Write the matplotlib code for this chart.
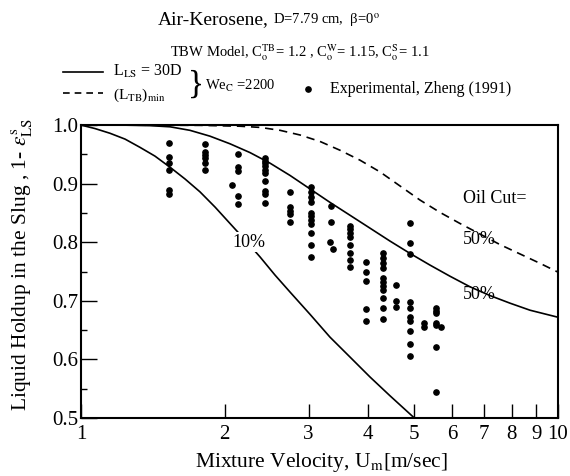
import numpy as np
import matplotlib
matplotlib.use('Agg')
import matplotlib.pyplot as plt
from matplotlib.lines import Line2D

plt.rcParams['font.family'] = ['Liberation Serif', 'DejaVu Serif']
plt.rcParams['mathtext.fontset'] = 'stix'

# model curves
# oil cut 10%, L_LS = 30D
x_10 = [1.0, 1.070, 1.150, 1.237, 1.329, 1.429, 1.537, 1.652, 1.776, 1.910, 2.053, 2.207,
        2.373, 2.551, 2.743, 3.021, 3.327, 3.665, 4.036, 4.444, 5.0]
y_10 = [1.0, 0.994, 0.986, 0.976, 0.962, 0.947, 0.928, 0.908, 0.886, 0.860, 0.832, 0.804,
        0.775, 0.744, 0.715, 0.677, 0.638, 0.604, 0.570, 0.538, 0.5]

# oil cut 50%, L_LS = 30D
x_50 = [1.0, 1.207, 1.395, 1.537, 1.692, 1.864, 2.053, 2.261, 2.490, 2.743, 3.021, 3.327,
        3.665, 4.036, 4.444, 4.894, 5.391, 5.937, 6.539, 7.202, 7.933, 8.737, 10.0]
y_50 = [1.0, 1.0, 0.999, 0.997, 0.991, 0.981, 0.968, 0.953, 0.935, 0.914, 0.891, 0.868,
        0.846, 0.824, 0.802, 0.781, 0.761, 0.742, 0.724, 0.709, 0.696, 0.684, 0.672]

# oil cut 50%, (L_TB)min
x_50min = [1.0, 1.776, 2.154, 2.373, 2.614, 2.879, 3.170, 3.491, 3.846, 4.236, 4.665,
           5.137, 5.656, 6.231, 6.862, 7.558, 8.325, 9.169, 10.0]
y_50min = [1.0, 0.9995, 0.998, 0.996, 0.991, 0.983, 0.972, 0.957, 0.940, 0.920, 0.896,
           0.872, 0.851, 0.832, 0.814, 0.796, 0.780, 0.764, 0.749]

# experimental data, Zheng (1991): velocity -> holdups
exp_cols = [
    (1.53, [0.969, 0.945, 0.935, 0.923, 0.890, 0.883]),
    (1.82, [0.968, 0.954, 0.949, 0.943, 0.936, 0.924]),
    (2.07, [0.898]),
    (2.13, [0.951, 0.929, 0.922, 0.879, 0.866]),
    (2.43, [0.943, 0.939, 0.935, 0.930, 0.924, 0.919, 0.904, 0.887, 0.882, 0.867]),
    (2.74, [0.886, 0.860, 0.854, 0.848, 0.834]),
    (3.04, [0.894, 0.886, 0.878, 0.869, 0.850, 0.845, 0.838, 0.831, 0.816, 0.795, 0.774]),
    (3.35, [0.862, 0.835]),
    (3.32, [0.801]),
    (3.37, [0.788]),
    (3.66, [0.828, 0.822, 0.815, 0.809, 0.795, 0.782, 0.770, 0.758]),
    (3.96, [0.766, 0.749, 0.733, 0.686, 0.666]),
    (4.29, [0.782, 0.773, 0.765, 0.756, 0.739, 0.732, 0.725, 0.718, 0.705, 0.688, 0.669]),
    (4.57, [0.727, 0.700, 0.690]),
    (4.90, [0.833, 0.798, 0.780, 0.698, 0.687, 0.673, 0.666, 0.649, 0.627, 0.606]),
    (5.25, [0.662, 0.655]),
    (5.54, [0.687, 0.683, 0.679, 0.663, 0.659, 0.622, 0.545]),
    (5.69, [0.655]),
]
x_exp = np.concatenate([[v] * len(h) for v, h in exp_cols])
y_exp = np.concatenate([h for v, h in exp_cols])

xticks = [1, 2, 3, 4, 5, 6, 7, 8, 9, 10]
yticks = [0.5, 0.6, 0.7, 0.8, 0.9, 1.0]

fig = plt.figure(figsize=(5.7, 4.76), dpi=100)
ax = fig.add_axes([0.1421, 0.1218, 0.8368, 0.6155])

ax.plot(x_10, y_10, 'k-', lw=1.2)
ax.plot(x_50, y_50, 'k-', lw=1.2)
ax.plot(x_50min, y_50min, 'k--', lw=1.2, dashes=(5, 3.5))
ax.plot(x_exp, y_exp, 'ko', ms=3.8, ls='none')

ax.set_xscale('log')
ax.set_xlim(1, 10)
ax.set_ylim(0.5, 1.0)
ax.set_xticks(xticks)
ax.set_xticklabels([str(t) for t in xticks])
ax.xaxis.set_minor_locator(matplotlib.ticker.NullLocator())
ax.set_yticks(yticks)
ax.set_yticklabels(['%.1f' % t for t in yticks])
ax.set_yticks(np.arange(0.55, 1.0, 0.1), minor=True)
ax.tick_params(axis='x', direction='in', length=10, width=1, labelsize=15, pad=5)
ax.tick_params(axis='y', which='major', direction='in', length=11.5, width=1, labelsize=15, pad=2)
ax.tick_params(axis='y', which='minor', direction='in', length=4.5, width=1)
for s in ax.spines.values():
    s.set_linewidth(1.5)

# curve labels
ax.text(2.08, 0.800, '10%', fontsize=13, va='center', ha='left',
        bbox=dict(fc='white', ec='none', pad=1))
ax.text(6.32, 0.875, 'Oil Cut=', fontsize=13, va='center', ha='left')
ax.text(6.32, 0.804, '50%', fontsize=13, va='center', ha='left')
ax.text(6.32, 0.711, '50%', fontsize=13, va='center', ha='left')

# titles
fig.text(269 / 570, 0.950, 'Air-Kerosene,', fontsize=14, ha='right', va='baseline')
fig.text(273 / 570, 0.950, 'D=7.79 cm,  β=0$^\\mathrm{o}$', fontsize=10.5, ha='left', va='baseline')
fig.text(300 / 570, 0.880,
         r'TBW Model, C$_\mathrm{o}^\mathrm{TB}$= 1.2 , C$_\mathrm{o}^\mathrm{W}$= 1.15, C$_\mathrm{o}^\mathrm{S}$= 1.1',
         fontsize=10.5, ha='center', va='baseline')

# hand made legend
fig.add_artist(Line2D([0.110, 0.181], [0.849, 0.849], color='k', lw=1.2))
fig.add_artist(Line2D([0.110, 0.181], [0.805, 0.805], color='k', lw=1.2, ls='--', dashes=(4, 3)))
fig.text(0.198, 0.849, r'L$_\mathrm{LS}$ = 30D', fontsize=11.5, va='center')
fig.text(0.198, 0.800, r'(L$_\mathrm{TB}$)$_\mathrm{min}$', fontsize=11, va='center')
fig.text(0.330, 0.822, '}', fontsize=24, va='center')
fig.text(0.360, 0.819, r'We$_\mathrm{C}$ =2200', fontsize=10.5, va='center')
fig.add_artist(Line2D([0.540], [0.813], color='k', marker='o', ms=3.8, ls='none'))
fig.text(0.579, 0.813, 'Experimental, Zheng (1991)', fontsize=11.5, va='center')

# axis labels
fig.text(22 / 570, 0.445, r'Liquid Holdup in the Slug , 1- $\varepsilon^\mathrm{s}_\mathrm{LS}$',
         fontsize=15.5, rotation=90, ha='center', va='center')
fig.text(321 / 570, 0.029, r'Mixture Velocity, U$_\mathrm{m}$[m/sec]', fontsize=15.5, ha='center', va='center')

fig.savefig('out.png', dpi=100)
